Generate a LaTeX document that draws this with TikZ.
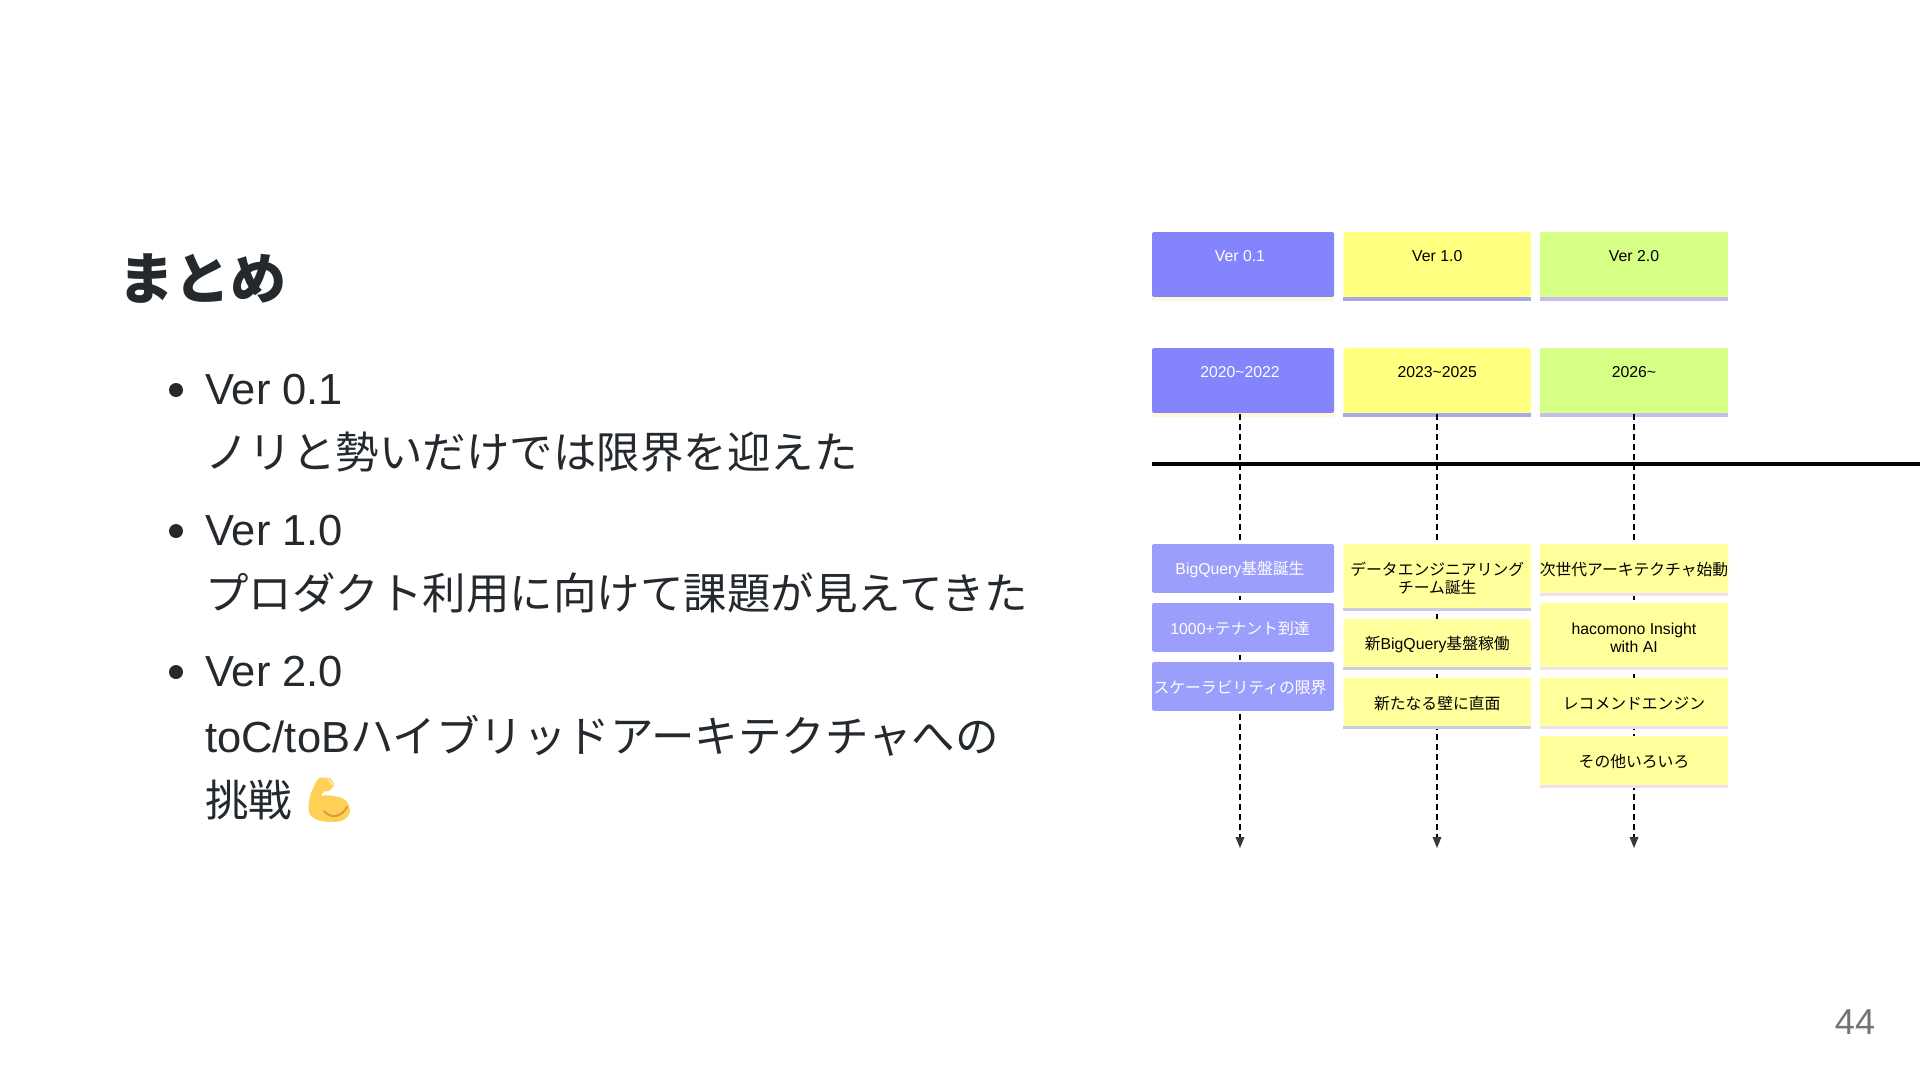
\documentclass[tikz,border=0pt]{standalone}
\usepackage{fontspec}
\setmainfont{Liberation Sans}
\newfontfamily\jp{Noto Sans CJK JP}
\newfontfamily\emojifont{Noto Emoji}
\usetikzlibrary{arrows.meta}

\definecolor{ink}{HTML}{24292E}
\definecolor{purplecard}{HTML}{8484FC}
\definecolor{lilaccard}{HTML}{9C9EFB}
\definecolor{yellowcard}{HTML}{FFFF80}
\definecolor{palecard}{HTML}{FFFF9C}
\definecolor{greencard}{HTML}{D5FF85}
\definecolor{creamstrip}{HTML}{FFF9DC}
\definecolor{bluestrip}{HTML}{A9A9E8}
\definecolor{mauvestrip}{HTML}{C9BBEA}
\definecolor{greystrip}{HTML}{CBCBE2}
\definecolor{pinkstrip}{HTML}{F1E0F2}
\definecolor{musclefill}{HTML}{FFD056}
\definecolor{musclecurve}{HTML}{D99A3C}

\newcommand{\toptext}[1]{\raisebox{3pt}[0pt][0pt]{#1}}

\begin{document}
\begin{tikzpicture}[x=1pt,y=-1pt,line join=round,
	slidetext/.style={anchor=base west,inner sep=0pt,text=ink,font=\fontsize{43.5}{50}\selectfont},
	marker/.style={circle,fill=ink,inner sep=0pt,minimum size=14pt},
	card/.style={rectangle,rounded corners=2pt,inner sep=0pt,align=center,font=\fontsize{15.8}{18}\selectfont},
	event/.style={card,execute at begin node={\rule{0pt}{16pt}}},
	purple/.style={card,fill=purplecard,text=white,minimum width=182pt,minimum height=65pt,execute at begin node={\hspace*{-6pt}}},
	lilac/.style={event,fill=lilaccard,text=white,minimum width=182pt,minimum height=48.7pt,execute at begin node={\hspace*{-6pt}}},
	yellow/.style={card,fill=yellowcard,text=black,minimum width=187.5pt,minimum height=65pt},
	green/.style={card,fill=greencard,text=black,minimum width=188pt,minimum height=65pt},
	pale/.style={event,fill=palecard,text=black,minimum width=187.5pt},
	dashline/.style={line width=2.5pt,dash pattern=on 5.5pt off 4.5pt,color=black,shorten <=1pt,-{Triangle[length=11pt,width=9pt,fill=black!78,line width=0pt]}}]
	\useasboundingbox (0,0) rectangle (1920,1080);

	% left column
	\node[anchor=base west,inner sep=0pt,text=ink,font=\jp\bfseries\fontsize{56}{60}\selectfont] (title) at (118,299) {まとめ};
	\node[marker] (dot1) at (176,390) {};
	\node[slidetext] (v01) at (205,404) {Ver 0.1};
	\node[slidetext] (v01txt) at (205,468) {\jp ノリと勢いだけでは限界を迎えた};
	\node[marker] (dot2) at (176,531) {};
	\node[slidetext] (v10) at (205,545) {Ver 1.0};
	\node[slidetext] (v10txt) at (205,609) {\jp プロダクト利用に向けて課題が見えてきた};
	\node[marker] (dot3) at (176,672) {};
	\node[slidetext] (v20) at (205,686) {Ver 2.0};
	\node[slidetext] (v20txt) at (205,752) {toC/toB{\jp ハイブリッドアーキテクチャへの}};
	\node[slidetext] (v20more) at (205,816) {\jp 挑戦};

	% flexed arm
	\fill[musclefill] (314,786) .. controls (317,778) and (321,776) .. (325,778)
		.. controls (329,780) and (332,783) .. (332,787) .. controls (331,791) and (328,792) .. (325,791)
		.. controls (322,793) and (321,795) .. (321,796) .. controls (329,794) and (349,796) .. (350,810)
		.. controls (350,818) and (342,822) .. (333,822) .. controls (325,822) and (316,821) .. (311,816)
		.. controls (307,808) and (309,796) .. (314,786) -- cycle;
	\node[anchor=center,inner sep=0pt,text=musclefill,font=\emojifont\fontsize{40}{44}\selectfont] (arm) at (329,799) {💪};
	\draw[musclecurve,line width=2pt,line cap=round] (324,811) .. controls (332,820) and (342,816) .. (347,807);

	% page number
	\node[anchor=base,inner sep=0pt,text=black!55,font=\fontsize{36}{40}\selectfont] (page) at (1855,1034) {44};

	% header cards
	\node[purple] (ver1) at (1243,264.5) {\toptext{Ver 0.1}};
	\node[yellow] (ver2) at (1437.25,264.5) {\toptext{Ver 1.0}};
	\node[green] (ver3) at (1634,264.5) {\toptext{Ver 2.0}};
	\node[purple] (year1) at (1243,380.5) {\toptext{2020\textasciitilde2022}};
	\node[yellow] (year2) at (1437.25,380.5) {\toptext{2023\textasciitilde2025}};
	\node[green] (year3) at (1634,380.5) {\toptext{2026\textasciitilde}};

	\fill[creamstrip] (ver1.south west) rectangle ++(182,3.5);
	\fill[bluestrip] (ver2.south west) rectangle ++(187.5,3.5);
	\fill[mauvestrip] (ver3.south west) rectangle ++(188,3.5);
	\fill[creamstrip] (year1.south west) rectangle ++(182,3.5);
	\fill[bluestrip] (year2.south west) rectangle ++(187.5,3.5);
	\fill[mauvestrip] (year3.south west) rectangle ++(188,3.5);

	\coordinate (end1) at (1240,848);
	\coordinate (end2) at (1437,848);
	\coordinate (end3) at (1634,848);
	\draw[dashline] (end1 |- year1.south) -- (end1);
	\draw[dashline] (end2 |- year2.south) -- (end2);
	\draw[dashline] (year3.south) -- (end3);

	% timeline
	\coordinate (lineA) at (1152,464);
	\coordinate (lineB) at (1920,464);
	\draw[line width=4.5pt,color=black] (lineA) -- (lineB);

	% events, first column
	\node[lilac] (ev11) at (1243,568.4) {\rule{0pt}{16pt}BigQuery{\jp 基盤誕生}};
	\node[lilac] (ev12) at (1243,627.4) {\rule{0pt}{16pt}1000+{\jp テナント到達}};
	\node[lilac] (ev13) at (1243,686.4) {\rule{0pt}{16pt}\jp スケーラビリティの限界};
	\fill[white] (ev11.south west) rectangle ++(182,3);
	\fill[white] (ev12.south west) rectangle ++(182,3);
	\fill[white] (ev13.south west) rectangle ++(182,3);

	% events, second column
	\node[pale,minimum height=64pt] (ev21) at (1437.25,576) {\rule{0pt}{19pt}\jp データエンジニアリング\\\jp チーム誕生};
	\node[pale,minimum height=48pt] (ev22) at (1437.25,643) {{\jp 新}BigQuery{\jp 基盤稼働}};
	\node[pale,minimum height=48.3pt] (ev23) at (1437.25,701.9) {\jp 新たなる壁に直面};
	\fill[greystrip] (ev21.south west) rectangle ++(187.5,3);
	\fill[greystrip] (ev22.south west) rectangle ++(187.5,3);
	\fill[greystrip] (ev23.south west) rectangle ++(187.5,3);

	% events, third column
	\node[pale,minimum width=188pt,minimum height=48.7pt] (ev31) at (1634,568.4) {\jp 次世代アーキテクチャ始動};
	\node[pale,minimum width=188pt,minimum height=64pt] (ev32) at (1634,635) {\rule{0pt}{18pt}hacomono Insight\\with AI};
	\node[pale,minimum width=188pt,minimum height=48.3pt] (ev33) at (1634,701.9) {\jp レコメンドエンジン};
	\node[pale,minimum width=188pt,minimum height=49pt] (ev34) at (1634,760.5) {\jp その他いろいろ};
	\fill[pinkstrip] (ev31.south west) rectangle ++(188,3);
	\fill[pinkstrip] (ev32.south west) rectangle ++(188,3);
	\fill[pinkstrip] (ev33.south west) rectangle ++(188,3);
	\fill[pinkstrip] (ev34.south west) rectangle ++(188,3);
\end{tikzpicture}
\end{document}
